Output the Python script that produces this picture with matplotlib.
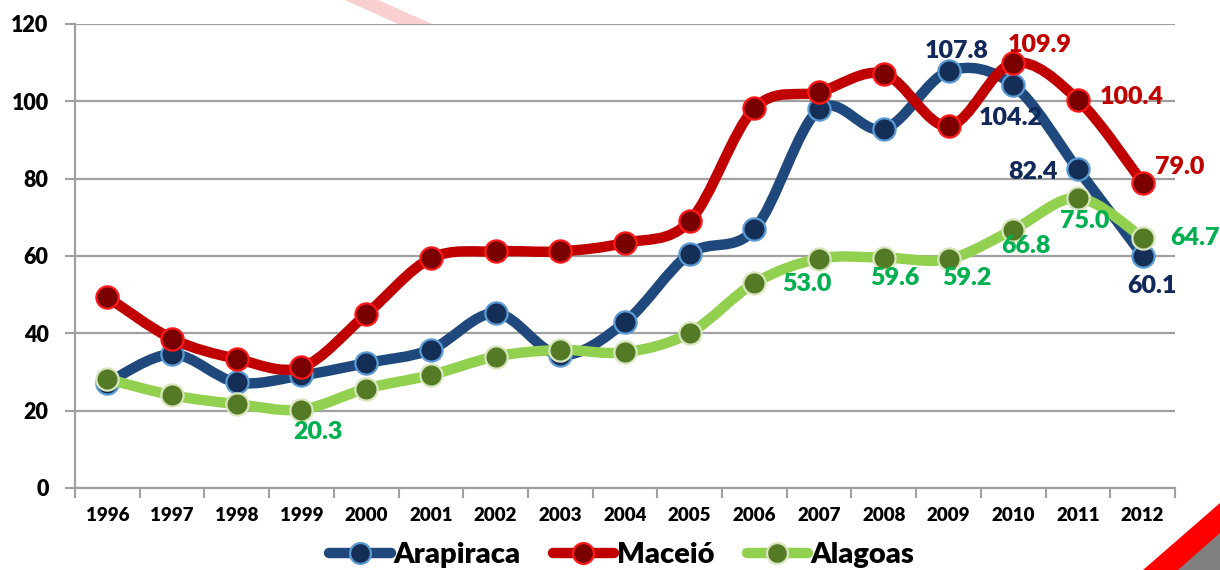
import numpy as np
import matplotlib
matplotlib.use("Agg")
import matplotlib.pyplot as plt
from matplotlib.path import Path
from matplotlib.patches import PathPatch, Polygon
from matplotlib.lines import Line2D

years = [str(y) for y in range(1996, 2013)]
arapiraca = [27.2, 34.6, 27.3, 29.1, 32.3, 35.8, 45.2, 34.4, 42.9, 60.6,
             66.9, 97.9, 92.8, 107.8, 104.2, 82.4, 60.1]
maceio = [49.4, 38.6, 33.4, 31.2, 44.9, 59.4, 61.2, 61.2, 63.4, 69.0,
          98.2, 102.4, 107.1, 93.6, 109.9, 100.4, 79.0]
alagoas = [28.2, 24.0, 21.7, 20.3, 25.7, 29.2, 34.0, 35.7, 35.1, 40.1,
           53.0, 59.3, 59.6, 59.2, 66.8, 75.0, 64.7]
yticks = [0, 20, 40, 60, 80, 100, 120]

# which points carry a value label, and where the label sits (offset in points)
labels_ara = [(13, (6, 14.5)), (14, (-1.5, -24)), (15, (-32, -2)), (16, (6.5, -22))]
labels_mac = [(14, (19, 13)), (15, (39, 2)), (16, (27, 11))]
labels_ala = [(3, (11.5, -16.5)), (10, (37.5, -0.7)), (12, (8, -14.8)),
              (13, (13, -13.7)), (14, (9.5, -11.5)), (15, (5, -16.5)),
              (16, (37.5, 0))]

FONT = "Lato"
WEIGHT = "heavy"


def smooth_path(xs, ys):
    pts = np.column_stack([xs, ys]).astype(float)
    p = np.vstack([pts[0], pts, pts[-1]])
    verts = [pts[0]]
    codes = [Path.MOVETO]
    for i in range(len(pts) - 1):
        p0, p1, p2, p3 = p[i], p[i + 1], p[i + 2], p[i + 3]
        verts += [p1 + (p2 - p0) / 6, p2 - (p3 - p1) / 6, p2]
        codes += [Path.CURVE4] * 3
    return Path(verts, codes)


series = [
    ("Arapiraca", arapiraca, "#1F497D", "#142E55", "#5B9BD5", "#10285A", labels_ara),
    ("Maceió", maceio, "#C00000", "#7A0000", "#FF1A1A", "#C00000", labels_mac),
    ("Alagoas", alagoas, "#92D050", "#557A26", "#D8E6BE", "#00B050", labels_ala),
]

fig = plt.figure(figsize=(12.2, 5.7), dpi=100)
ax = fig.add_axes([75 / 1220, 1 - 488 / 570, 1100 / 1220, 464 / 570])

x = np.arange(len(years))
handles = []
for k, (name, vals, lc, mfc, mec, tc, labs) in enumerate(series):
    z = 3 + k
    ax.add_patch(PathPatch(smooth_path(x, vals), fill=False, edgecolor=lc,
                           lw=7.5, capstyle="round", joinstyle="round", zorder=z))
    ax.plot(x, vals, ls="none", marker="o", ms=16, mfc=mfc, mec=mec, mew=1.6,
            zorder=z + 0.1)
    for i, off in labs:
        ax.annotate(f"{vals[i]:.1f}", (x[i], vals[i]), xytext=off,
                    textcoords="offset points", ha="center", va="center",
                    fontsize=18, fontweight=WEIGHT, family=FONT,
                    color=tc, zorder=10)
    handles.append(Line2D([], [], color=lc, lw=7.5, marker="o", ms=15,
                          mfc=mfc, mec=mec, mew=1.6, solid_capstyle="round"))

ax.set_xlim(-0.5, len(years) - 0.5)
ax.set_ylim(0, 120)
ax.set_yticks(yticks)
ax.set_yticklabels([str(v) for v in yticks], fontsize=15.5, fontweight=WEIGHT,
                   family=FONT)
ax.yaxis.grid(True, color="#A0A0A0", lw=1.6, zorder=0)
ax.set_axisbelow(True)
ax.tick_params(axis="y", length=7, width=1.5, color="#A0A0A0", pad=12)

ax.set_xticks(np.arange(-0.5, len(years)), minor=False)
ax.set_xticklabels([])
ax.set_xticks(x, minor=True)
ax.set_xticklabels(years, minor=True, fontsize=13.5, fontweight=WEIGHT,
                   family=FONT)
ax.tick_params(axis="x", which="major", length=7, width=1.5, color="#A0A0A0")
ax.tick_params(axis="x", which="minor", length=0, pad=14)

for s in ("top", "right"):
    ax.spines[s].set_visible(False)
for s in ("left", "bottom"):
    ax.spines[s].set_color("#A0A0A0")
    ax.spines[s].set_linewidth(1.6)

fig.legend(handles, [s[0] for s in series], loc="center",
           bbox_to_anchor=(622 / 1220, 1 - 555 / 570), ncol=3, frameon=False,
           handlelength=2.1, handletextpad=0.1, columnspacing=1.1,
           prop={"family": FONT, "weight": WEIGHT, "size": 21})

# decorative slide elements
W, H = 1220, 570
def px(pts):
    return [(a / W, 1 - b / H) for a, b in pts]

fig.patches.append(Polygon(px([(345, 0), (378, 0), (432, 24), (398, 24)]),
                           closed=True, transform=fig.transFigure,
                           facecolor="#F4A0A0", edgecolor="none", alpha=0.5,
                           zorder=0))
fig.patches.append(Polygon(px([(1143, 570), (1220, 503), (1220, 570)]),
                           closed=True, transform=fig.transFigure,
                           facecolor="#FF0000", edgecolor="none", zorder=0))
fig.patches.append(Polygon(px([(1178, 570), (1220, 533), (1220, 570)]),
                           closed=True, transform=fig.transFigure,
                           facecolor="#808080", edgecolor="none", zorder=0))

fig.savefig("out.png", dpi=100)
